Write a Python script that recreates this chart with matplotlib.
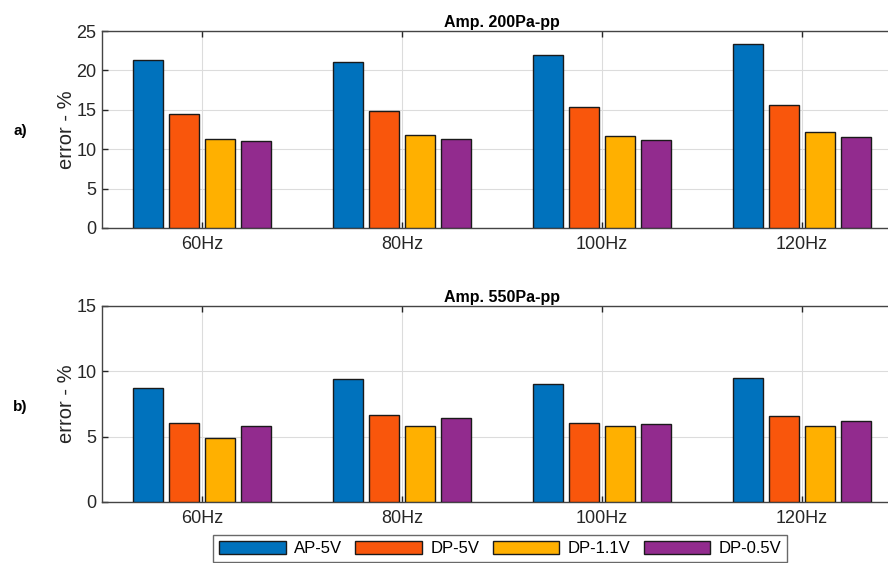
import matplotlib
matplotlib.use("Agg")
import matplotlib.pyplot as plt
import numpy as np

categories = ["60Hz", "80Hz", "100Hz", "120Hz"]
series_names = ["AP-5V", "DP-5V", "DP-1.1V", "DP-0.5V"]
colors = ["#0072BD", "#F9560C", "#FFB000", "#922B8E"]

# Amp. 200Pa-pp
top_AP5 = [21.3, 21.05, 22.0, 23.4]
top_DP5 = [14.5, 14.85, 15.4, 15.65]
top_DP11 = [11.3, 11.8, 11.7, 12.2]
top_DP05 = [11.1, 11.25, 11.15, 11.5]

# Amp. 550Pa-pp
bot_AP5 = [8.72, 9.44, 9.03, 9.49]
bot_DP5 = [6.03, 6.67, 6.03, 6.56]
bot_DP11 = [4.91, 5.83, 5.83, 5.80]
bot_DP05 = [5.83, 6.46, 5.98, 6.21]

top_data = [top_AP5, top_DP5, top_DP11, top_DP05]
bot_data = [bot_AP5, bot_DP5, bot_DP11, bot_DP05]

W, H = 888, 563
fig = plt.figure(figsize=(W / 100, H / 100), dpi=100)
plt.rcParams['font.family'] = ['Liberation Sans', 'DejaVu Sans']

def px_axes(x0, y0, x1, y1):
    return fig.add_axes([x0 / W, 1 - y1 / H, (x1 - x0) / W, (y1 - y0) / H])

ax1 = px_axes(102, 31, 902, 228)
ax2 = px_axes(102, 306, 902, 502)

x = np.arange(1, len(categories) + 1)
offsets = [-0.27, -0.09, 0.09, 0.27]
bw = 0.147

handles = []
for ax, data, title, ymax, yticks in [
    (ax1, top_data, "Amp. 200Pa-pp", 25, [0, 5, 10, 15, 20, 25]),
    (ax2, bot_data, "Amp. 550Pa-pp", 15, [0, 5, 10, 15]),
]:
    for i, (vals, c) in enumerate(zip(data, colors)):
        b = ax.bar(x + offsets[i], vals, width=bw, color=c, edgecolor="#1a1a1a",
                   linewidth=1.0, zorder=3, label=series_names[i])
        if ax is ax1:
            handles.append(b)
    ax.set_xlim(0.5, 4.5)
    ax.set_ylim(0, ymax)
    ax.set_xticks(x)
    ax.set_xticklabels(categories, fontsize=13, color="#262626")
    ax.set_yticks(yticks)
    ax.set_yticklabels([str(t) for t in yticks], fontsize=13, color="#262626")
    ax.grid(True, color="#dcdcdc", linewidth=0.8, zorder=0)
    ax.set_axisbelow(True)
    ax.tick_params(direction="in", top=True, right=True, length=4, width=1.0,
                   colors="#262626", labelcolor="#262626", pad=4)
    ax.tick_params(axis="x", pad=6)
    for s in ax.spines.values():
        s.set_color("#444444")
        s.set_linewidth(1.0)
    ax.set_title(title, fontsize=11.5, fontweight="bold", pad=3)
    ax.set_ylabel("error - %", fontsize=14.5, color="#262626", labelpad=0)

fig.text(13 / W, 1 - 131 / H, "a)", fontsize=11, fontweight="bold", ha="left", va="center")
fig.text(13 / W, 1 - 407 / H, "b)", fontsize=11, fontweight="bold", ha="left", va="center")

leg = fig.legend(handles=handles, labels=series_names, loc="upper left",
                 bbox_to_anchor=(213 / W, 1 - 535 / H), ncol=4, fontsize=12,
                 frameon=True, fancybox=False, edgecolor="#444444",
                 handlelength=4.0, handleheight=0.8, columnspacing=0.8,
                 handletextpad=0.5, borderpad=0.35, borderaxespad=0)
leg.get_frame().set_linewidth(1.0)

fig.savefig("out.png", dpi=100)
